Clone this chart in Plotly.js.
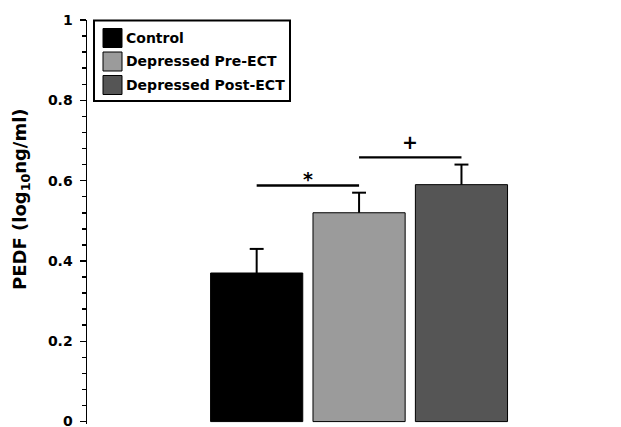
<!DOCTYPE html>
<html><head><meta charset="utf-8">
<script src="https://cdn.plot.ly/plotly-3.0.1.min.js"></script>
<style>html,body{margin:0;padding:0;background:#fff}#chart{width:621px;height:427px}</style>
</head><body><div id="chart"></div>
<script>
const categories = ['Control', 'Depressed Pre-ECT', 'Depressed Post-ECT'];
const values = [0.37, 0.52, 0.59];
const errors = [0.06, 0.05, 0.05];
const colors = ['#000000', '#9b9b9b', '#555555'];
const yTickVals = [0, 0.2, 0.4, 0.6, 0.8, 1];
const yTickText = ['0', '0.2', '0.4', '0.6', '0.8', '1'];
const comparisons = [
  {from: 0, to: 1, label: '*'},
  {from: 1, to: 2, label: '+'}
];
const yTitle = 'PEDF (log<sub>10</sub>ng/ml)';

const W = 621, H = 427;
const M = {l: 87, r: 0, t: 20, b: 3};
const PW = W - M.l - M.r, PH = H - M.t - M.b;
const px = x => (x - M.l) / PW;
const py = y => (H - M.b - y) / PH;
const FONT = 'DejaVu Sans';
const capHalf = 0.068;

const positions = categories.map((c, i) => i);

const barTrace = {
  type: 'bar',
  x: positions,
  y: values,
  width: 0.9,
  marker: {color: colors, line: {color: '#000', width: 1}},
  showlegend: false,
  hoverinfo: 'skip'
};

// upper-only error bars (stem + cap), drawn through the data axes
const ex = [], ey = [];
positions.forEach((p, i) => {
  const top = values[i] + errors[i];
  ex.push(p, p, null, p - capHalf, p + capHalf, null);
  ey.push(values[i], top, null, top, top, null);
});
const errTrace = {
  type: 'scatter', mode: 'lines', x: ex, y: ey,
  line: {color: '#000', width: 2}, showlegend: false, hoverinfo: 'skip', connectgaps: false
};

const shapes = [];
const annotations = [];

comparisons.forEach((cmp) => {
  const top = Math.max(values[cmp.from] + errors[cmp.from], values[cmp.to] + errors[cmp.to]);
  const yl = top + 0.018;
  shapes.push({type: 'line', xref: 'x', yref: 'y', x0: cmp.from, x1: cmp.to, y0: yl, y1: yl,
               line: {color: '#000', width: 2.4}});
  annotations.push({xref: 'x', yref: 'y', x: (cmp.from + cmp.to) / 2, y: yl,
    text: cmp.label, showarrow: false, xanchor: 'center', yanchor: 'middle',
    yshift: cmp.label === '*' ? 6 : 15,
    font: {family: FONT, size: 19, color: '#000', weight: 700}});
});

// legend box
shapes.push({type: 'rect', xref: 'paper', yref: 'paper', x0: px(94), x1: px(290), y0: py(101), y1: py(20.5),
             line: {color: '#000', width: 2}, fillcolor: 'rgba(0,0,0,0)'});
const rowY = [38, 61.5, 85];
categories.forEach((c, i) => {
  shapes.push({type: 'rect', xref: 'paper', yref: 'paper', x0: px(103), x1: px(122),
               y0: py(rowY[i] + 9.5), y1: py(rowY[i] - 9.5),
               line: {color: '#000', width: 1}, fillcolor: colors[i]});
  annotations.push({xref: 'paper', yref: 'paper', x: px(124), y: py(rowY[i]), text: c,
    showarrow: false, xanchor: 'left', yanchor: 'middle',
    font: {family: FONT, size: 14, color: '#000', weight: 700}});
});

annotations.push({xref: 'paper', yref: 'paper', x: px(21), y: py(199), text: yTitle,
  textangle: -90, showarrow: false, xanchor: 'center', yanchor: 'middle',
  font: {family: FONT, size: 18, color: '#000', weight: 700}});

const layout = {
  width: W, height: H,
  margin: M,
  paper_bgcolor: '#fff', plot_bgcolor: '#fff',
  showlegend: false,
  xaxis: {range: [-1.657, 3.558], visible: false, fixedrange: true},
  yaxis: {range: [-0.006, 1], tickmode: 'array', tickvals: yTickVals, ticktext: yTickText,
    ticks: 'outside', ticklen: 6, tickwidth: 1.5, tickcolor: '#000',
    showline: true, linewidth: 1.5, linecolor: '#000',
    showgrid: false, zeroline: false,
    minor: {tickmode: 'linear', tick0: 0, dtick: 0.04, ticks: 'outside', ticklen: 4, tickwidth: 1.5, tickcolor: '#000', showgrid: false},
    tickfont: {family: FONT, size: 14, color: '#000', weight: 700},
    ticklabelstandoff: 4,
    ticklabeloverflow: 'allow',
    fixedrange: true},
  shapes: shapes,
  annotations: annotations
};

Plotly.newPlot('chart', [barTrace, errTrace], layout, {staticPlot: true, displayModeBar: false});
</script>
</body></html>
